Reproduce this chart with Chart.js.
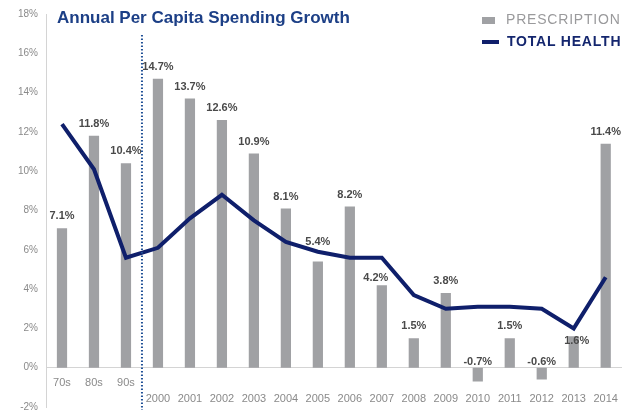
<!DOCTYPE html>
<html>
<head>
<meta charset="utf-8">
<script src="https://cdn.jsdelivr.net/npm/chart.js@4/dist/chart.umd.min.js"></script>
<style>
  html, body { margin: 0; padding: 0; background: #fff; overflow: hidden; }
  #wrap { position: relative; width: 626px; height: 415px; }
  #title { position: absolute; left: 57px; top: 8px; font: bold 17px "Liberation Sans", Arial, sans-serif; color: #1c3f86; }
  .leg { position: absolute; left: 482px; font: 14px "Liberation Sans", Arial, sans-serif; white-space: nowrap; letter-spacing: 0.8px; }
  .sw { display: inline-block; vertical-align: middle; margin-right: 11px; }
</style>
</head>
<body>
<div id="wrap">
  <canvas id="c" width="626" height="415"></canvas>
  <div id="title">Annual Per Capita Spending Growth</div>
  <div class="leg" style="top:11px;color:#9a9a9c;"><span class="sw" style="width:13px;height:7px;background:#a0a1a4;"></span>PRESCRIPTION</div>
  <div class="leg" style="top:33px;color:#14266e;font-weight:bold;"><span class="sw" style="width:17px;height:4px;background:#0f1f6b;margin-right:8px;"></span>TOTAL HEALTH</div>
</div>
<script>
const categories = ['70s','80s','90s','2000','2001','2002','2003','2004','2005','2006','2007','2008','2009','2010','2011','2012','2013','2014'];
const prescription = [7.1, 11.8, 10.4, 14.7, 13.7, 12.6, 10.9, 8.1, 5.4, 8.2, 4.2, 1.5, 3.8, -0.7, 1.5, -0.6, 1.6, 11.4];
const totalHealth = [12.4, 10.1, 5.6, 6.1, 7.6, 8.8, 7.5, 6.4, 5.9, 5.6, 5.6, 3.7, 3.0, 3.1, 3.1, 3.0, 2.0, 4.6];
const yTicks = [-2, 0, 2, 4, 6, 8, 10, 12, 14, 16, 18];
const barLabels = prescription.map(v => v.toFixed(1) + '%');

const decadeCount = 3;
const tickLabels = categories.map((c, i) => i < decadeCount ? c : ['', c]);

// label nudges (pixels) where the reference moves labels clear of the line
const labelNudge = { 8: [0, -8], 10: [-6, 5], 16: [3, 17] };

const overlay = {
  id: 'overlay',
  afterDatasetsDraw(chart) {
    const ctx = chart.ctx;
    const meta = chart.getDatasetMeta(1);
    const ys = chart.scales.y;
    const zero = ys.getPixelForValue(0);
    ctx.save();
    ctx.font = 'bold 11px "Liberation Sans", Arial, sans-serif';
    ctx.fillStyle = '#4a4a4a';
    ctx.textAlign = 'center';
    ctx.textBaseline = 'middle';
    meta.data.forEach((bar, i) => {
      const v = prescription[i];
      const n = labelNudge[i] || [0, 0];
      const y = v >= 0 ? bar.y - 12 : zero - 6;
      ctx.fillText(barLabels[i], bar.x + n[0], y + n[1]);
    });
    // dotted separator between decades and years
    const xs = chart.scales.x;
    const sx = (xs.getPixelForValue(decadeCount - 1) + xs.getPixelForValue(decadeCount)) / 2;
    ctx.strokeStyle = '#1f4f95';
    ctx.lineWidth = 2;
    ctx.setLineDash([1.5, 2]);
    ctx.beginPath();
    ctx.moveTo(sx, 35);
    ctx.lineTo(sx, ys.getPixelForValue(-2) + 3);
    ctx.stroke();
    ctx.restore();
  }
};

new Chart(document.getElementById('c'), {
  data: {
    labels: tickLabels,
    datasets: [
      {
        type: 'line',
        label: 'TOTAL HEALTH',
        data: totalHealth,
        borderColor: '#0f1f6b',
        borderWidth: 4,
        pointRadius: 0,
        tension: 0,
        fill: false,
        order: 0
      },
      {
        type: 'bar',
        label: 'PRESCRIPTION',
        data: prescription,
        backgroundColor: '#a0a1a4',
        barPercentage: 0.32,
        categoryPercentage: 1.0,
        order: 1
      }
    ]
  },
  options: {
    responsive: false,
    animation: false,
    layout: { padding: { top: 14, right: 2, bottom: 8, left: 0 } },
    plugins: { legend: { display: false }, tooltip: { enabled: false }, title: { display: false } },
    scales: {
      x: {
        position: { y: 0 },
        grid: { display: false, drawTicks: false },
        border: { display: true, color: '#d4d4d4', width: 1 },
        ticks: {
          color: '#8a8a8a',
          font: { family: '"Liberation Sans Narrow", "Liberation Sans", Arial, sans-serif', size: 11, lineHeight: 1.4 },
          padding: 8,
          maxRotation: 0,
          autoSkip: false
        }
      },
      y: {
        min: -2,
        max: 18,
        afterBuildTicks(scale) { scale.ticks = yTicks.map(v => ({ value: v })); },
        afterFit(scale) { scale.width = 46; scale.paddingTop = 0; scale.paddingBottom = 0; },
        grid: { display: false, drawTicks: false },
        border: { display: true, color: '#d4d4d4', width: 1 },
        ticks: {
          color: '#8a8a8a',
          font: { family: '"Liberation Sans Narrow", "Liberation Sans", Arial, sans-serif', size: 10 },
          padding: 8,
          callback: v => v + '%'
        }
      }
    }
  },
  plugins: [overlay]
});
</script>
</body>
</html>
